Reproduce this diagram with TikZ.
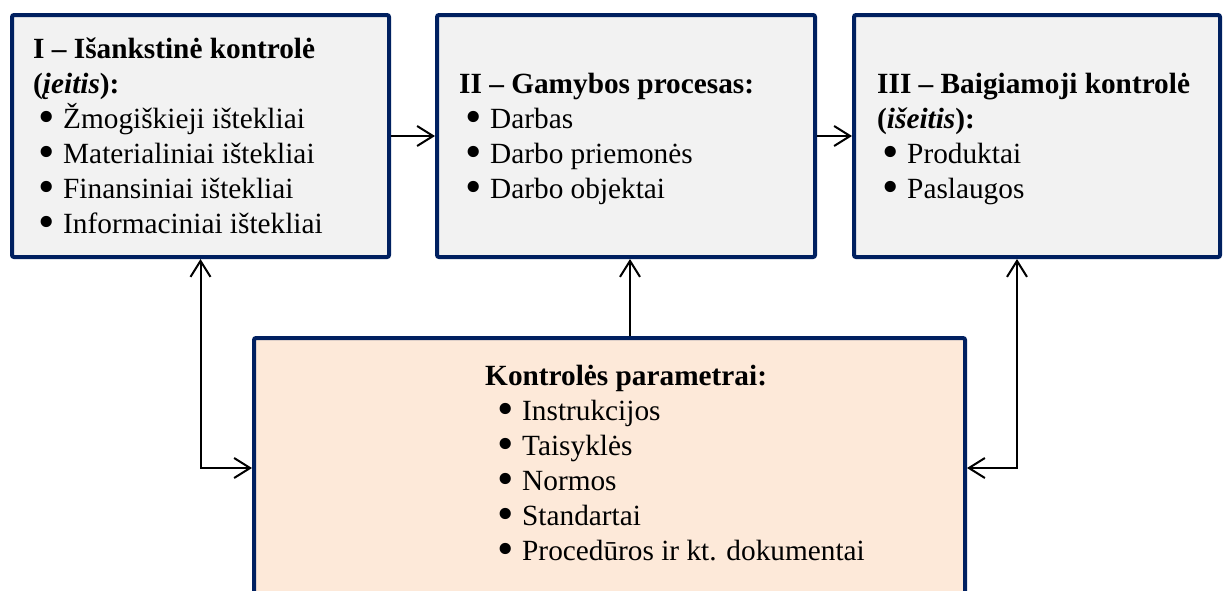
\documentclass[tikz,border=0pt]{standalone}
\usepackage{fontspec}
\setmainfont{Liberation Serif}
\usetikzlibrary{arrows.meta}
\definecolor{navy}{HTML}{002060}
\definecolor{boxgrey}{HTML}{F2F2F2}
\definecolor{peach}{HTML}{FDE9D9}
\newcommand{\itm}[1]{\makebox[22pt][l]{\hspace{-3pt}\smash{\raisebox{-4.5pt}{\scalebox{1.6}{\textbullet}}}}#1}
\begin{document}
\begin{tikzpicture}[x=1pt,y=-1pt,
  box/.style={draw=navy,line width=4pt,rounded corners=2pt,fill=boxgrey,inner sep=0pt},
  pbox/.style={box,fill=peach},
  txt/.style={anchor=base west,inner sep=0pt,font=\fontsize{29.3}{35}\selectfont},
  conn/.style={line width=2pt,black,arrows={-Straight Barb[length=16pt,width=20pt,line width=2pt]}},
  conn2/.style={line width=2pt,black,arrows={Straight Barb[length=16pt,width=20pt,line width=2pt]-Straight Barb[length=16pt,width=20pt,line width=2pt]}}]
\useasboundingbox (0,0) rectangle (1223,590);
\clip (0,0) rectangle (1223,590);
% boxes
\node[box,minimum width=377pt,minimum height=242pt] (b1) at (200.5,136) {};
\node[box,minimum width=378pt,minimum height=242pt] (b2) at (626,136) {};
\node[box,minimum width=366pt,minimum height=242pt] (b3) at (1037,136) {};
\node[pbox,minimum width=711pt,minimum height=302pt] (bp) at (609.5,489) {};
% box 1 text
\node[txt] (t1a) at (33,58) {\textbf{I – Išankstinė kontrolė}};
\node[txt] (t1b) at (33,93) {\textbf{(\textit{įeitis}):}};
\node[txt] (t1c) at (41,128) {\itm{Žmogiškieji ištekliai}};
\node[txt] (t1d) at (41,163) {\itm{Materialiniai ištekliai}};
\node[txt] (t1e) at (41,198) {\itm{Finansiniai ištekliai}};
\node[txt] (t1f) at (41,233) {\itm{Informaciniai ištekliai}};
% box 2 text
\node[txt] (t2a) at (459,93) {\textbf{II – Gamybos procesas:}};
\node[txt] (t2b) at (468,128) {\itm{Darbas}};
\node[txt] (t2c) at (468,163) {\itm{Darbo priemonės}};
\node[txt] (t2d) at (468,198) {\itm{Darbo objektai}};
% box 3 text
\node[txt] (t3a) at (877,93) {\textbf{III – Baigiamoji kontrolė}};
\node[txt] (t3b) at (877,128) {\textbf{(\textit{išeitis}):}};
\node[txt] (t3c) at (885,163) {\itm{Produktai}};
\node[txt] (t3d) at (885,198) {\itm{Paslaugos}};
% bottom text
\node[txt] (tpa) at (485,385) {\textbf{Kontrolės parametrai:}};
\node[txt] (tpb) at (500,420) {\itm{Instrukcijos}};
\node[txt] (tpc) at (500,455) {\itm{Taisyklės}};
\node[txt] (tpd) at (500,490) {\itm{Normos}};
\node[txt] (tpe) at (500,525) {\itm{Standartai}};
\node[txt] (tpf) at (500,560) {\itm{Procedūros ir kt. dokumentai}};
% connectors
\coordinate (lvl) at (0,468);
\coordinate (mx) at (630,0);
\coordinate (rx) at (1017,0);
\draw[conn] (b1) -- (b2);
\draw[conn] (b2) -- (b3);
\draw[conn2] (b1.south) |- (bp.west |- lvl);
\draw[conn] (bp.north -| mx) -- (b2.south -| mx);
\draw[conn2] (b3.south -| rx) |- (bp.east |- lvl);
\end{tikzpicture}
\end{document}
